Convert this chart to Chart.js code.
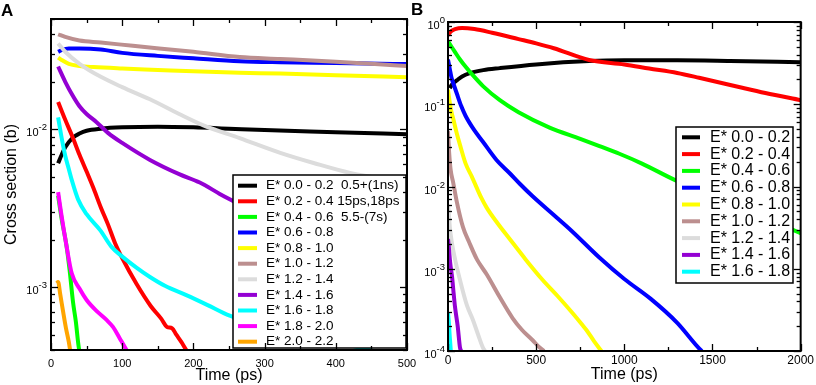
<!DOCTYPE html>
<html><head><meta charset="utf-8">
<script src="https://cdn.jsdelivr.net/npm/chart.js@4.4.0/dist/chart.umd.min.js"></script>
<style>
html,body{margin:0;padding:0;background:#fff;width:816px;height:385px;overflow:hidden;}
canvas{position:absolute;top:0;}
#cA{left:0;} #cB{left:406px;}
.lbl{position:absolute;font:bold 17px "Liberation Sans",Arial,sans-serif;color:#000;}
</style></head><body>
<canvas id="cA" width="430" height="385"></canvas>
<canvas id="cB" width="410" height="385"></canvas>
<div class="lbl" style="left:1px;top:1px">A</div>
<div class="lbl" style="left:411px;top:0px">B</div>
<script>
const FONT = '"Liberation Sans", Arial, Helvetica, sans-serif';

// ---------- Panel A (0-500 ps) ----------
const labelsA = ["E* 0.0 - 0.2  0.5+(1ns)", "E* 0.2 - 0.4 15ps,18ps", "E* 0.4 - 0.6  5.5-(7s)", "E* 0.6 - 0.8", "E* 0.8 - 1.0", "E* 1.0 - 1.2", "E* 1.2 - 1.4", "E* 1.4 - 1.6", "E* 1.6 - 1.8", "E* 1.8 - 2.0", "E* 2.0 - 2.2"];
const tA00 = [10,15,20,30,40,50,70,100,150,200,250,300,400,500];
const vA00 = [0.0061,0.0069,0.0077,0.0088,0.0094,0.0098,0.0101,0.0103,0.0104,0.0103,0.0101,0.0099,0.0096,0.0093];
const tA02 = [10,20,30,40,50,60,70,80,90,100,120,140,155,163,170,176,183,190,197];
const vA02 = [0.0149,0.0115,0.009,0.0069,0.0054,0.0042,0.0032,0.0025,0.0019,0.00153,0.00105,0.00076,0.00063,0.00056,0.00055,0.0005,0.00045,0.0004,0.00036];
const tA04 = [10,15,22,26,31,35,38,41];
const vA04 = [0.0038,0.0027,0.0018,0.0013,0.0008,0.0006,0.00045,0.00036];
const tA06 = [10,15,25,40,70,100,150,200,265,322,400,444,500];
const vA06 = [0.031,0.0318,0.0325,0.0325,0.032,0.0305,0.0292,0.0282,0.027,0.0266,0.0263,0.0261,0.0259];
const tA08 = [10,15,25,40,60,100,150,200,265,322,400,500];
const vA08 = [0.0285,0.0275,0.026,0.0252,0.0248,0.0243,0.0238,0.0233,0.0228,0.0226,0.022,0.0214];
const tA10 = [10,20,40,70,115,200,265,322,400,444,500];
const vA10 = [0.040,0.0385,0.0365,0.0355,0.0338,0.031,0.0287,0.0279,0.0268,0.0261,0.0252];
const tA12 = [10,20,40,70,100,139,180,214,265,322,370,420,500];
const vA12 = [0.035,0.031,0.026,0.0215,0.0185,0.0155,0.0125,0.0106,0.0088,0.0071,0.0061,0.0053,0.0046];
const tA14 = [10,20,30,40,50,64,80,100,139,180,209,237,251,300,400,500];
const vA14 = [0.025,0.02,0.0165,0.014,0.0125,0.0111,0.0095,0.0082,0.0064,0.0052,0.0046,0.0039,0.0036,0.0027,0.0017,0.00114];
const tA16 = [10,15,20,25,29,38,50,69,85,101,120,139,160,190,220,251,300,400,500];
const vA16 = [0.0119,0.0088,0.0068,0.0056,0.0048,0.0036,0.0029,0.0023,0.0018,0.00155,0.00133,0.00116,0.00102,0.00089,0.00077,0.00066,0.00057,0.00045,0.00035];
const tA18 = [10,14,18,22,29,40,50,65,78,87,97,106,110];
const vA18 = [0.004,0.003,0.0023,0.0018,0.00123,0.00098,0.00083,0.0007,0.00062,0.00056,0.00047,0.0004,0.00037];
const tA20 = [8,10,13,17,21,25,28];
const vA20 = [0.00106,0.00108,0.0009,0.0007,0.00055,0.00045,0.00037];

const xTicksA = [0,50,100,150,200,250,300,350,400,450,500];
const xLabelsA = [0,100,200,300,400,500];
const yExpLabelsA = [-3,-2];

// ---------- Panel B (0-2000 ps) ----------
const labelsB = ["E* 0.0 - 0.2", "E* 0.2 - 0.4", "E* 0.4 - 0.6", "E* 0.6 - 0.8", "E* 0.8 - 1.0", "E* 1.0 - 1.2", "E* 1.2 - 1.4", "E* 1.4 - 1.6", "E* 1.6 - 1.8"];
const tB00 = [10,20,30,50,80,124,200,294,500,800,1000,1300,1600,2000];
const vB00 = [0.157,0.17,0.18,0.195,0.218,0.239,0.26,0.275,0.305,0.335,0.342,0.342,0.336,0.325];
const tB02 = [0,10,20,40,80,150,250,400,500,600,800,1000,1141,1300,1424,1650,1800,2000];
const vB02 = [0.69,0.74,0.78,0.82,0.845,0.82,0.74,0.62,0.55,0.48,0.345,0.305,0.272,0.24,0.21,0.162,0.137,0.112];
const tB04 = [0,20,40,68,100,124,200,294,400,576,750,859,972,1100,1294,1500,1750,2000];
const vB04 = [0.58,0.5,0.43,0.35,0.285,0.248,0.165,0.112,0.08,0.052,0.038,0.031,0.025,0.019,0.0118,0.0078,0.0046,0.0027];
const tB06 = [0,10,20,30,50,75,100,150,198,275,350,407,480,600,700,860,1000,1150,1300,1420,1440];
const vB06 = [0.35,0.27,0.21,0.18,0.135,0.095,0.072,0.048,0.035,0.021,0.0145,0.0108,0.0076,0.0045,0.0029,0.00136,0.00075,0.00043,0.00022,0.00011,0.0001];
const tB08 = [0,5,10,20,30,50,70,100,135,190,220,280,350,440,537,620,706,760,785,830,870];
const vB08 = [0.15,0.125,0.105,0.08,0.066,0.044,0.031,0.019,0.0132,0.0072,0.0055,0.0036,0.0023,0.0013,0.00073,0.00047,0.00029,0.00021,0.00018,0.00013,0.0001];
const tB10 = [0,3,7,15,30,50,85,120,164,220,294,367,420,480,520,545];
const vB10 = [0.047,0.035,0.025,0.016,0.011,0.0065,0.0032,0.0021,0.0013,0.00085,0.00045,0.00025,0.00018,0.000135,0.00011,0.0001];
const tB12 = [0,5,10,20,40,68,107,141,170,198,210];
const vB12 = [0.006,0.0045,0.0033,0.0022,0.0013,0.00073,0.00036,0.00024,0.00016,0.00011,0.0001];
const tB14 = [0,5,12,23,32,40,55,68,75];
const vB14 = [0.0023,0.0018,0.0012,0.0008,0.0005,0.00034,0.0002,0.00011,0.0001];
const tB16 = [0,5,10,16];
const vB16 = [0.00029,0.00022,0.00015,0.0001];

const xTicksB = [0,250,500,750,1000,1250,1500,1750,2000];
const xLabelsB = [0,500,1000,1500,2000];
const yExpLabelsB = [-4,-3,-2,-1,0];

// ---------- styles ----------
const seriesColors = ['#000000','#ff0000','#00ff00','#0000ff','#ffff00','#bc8f8f','#dcdcdc','#9400d3','#00ffff','#ff00ff','#ffa500'];

const seriesA = [[tA00,vA00],[tA02,vA02],[tA04,vA04],[tA06,vA06],[tA08,vA08],[tA10,vA10],[tA12,vA12],[tA14,vA14],[tA16,vA16],[tA18,vA18],[tA20,vA20]];
const seriesB = [[tB00,vB00],[tB02,vB02],[tB04,vB04],[tB06,vB06],[tB08,vB08],[tB10,vB10],[tB12,vB12],[tB14,vB14],[tB16,vB16]];

function makeDatasets(series, labels) {
  return series.map((s, i) => ({
    label: labels[i],
    data: s[0].map((t, k) => ({x: t, y: s[1][k]})),
    borderColor: seriesColors[i],
    backgroundColor: seriesColors[i],
    borderWidth: 4,
    pointRadius: 0,
    fill: false,
    cubicInterpolationMode: 'monotone',
    clip: 0,
    order: -i
  }));
}

function logTicks(min, max) {
  const out = [];
  for (let e = Math.floor(Math.log10(min)); e <= Math.ceil(Math.log10(max)); e++) {
    for (let k = 1; k <= 9; k++) {
      const v = k * Math.pow(10, e);
      if (v >= min * 0.999 && v <= max * 1.001) out.push({value: v, major: k === 1});
    }
  }
  return out;
}

const panelPlugin = {
  id: 'panel',
  afterDraw(chart) {
    const o = chart.options.plugins.panel;
    const ctx = chart.ctx, a = chart.chartArea;
    const xs = chart.scales.x, ys = chart.scales.y;
    ctx.save();
    // legend
    const L = o.legend;
    ctx.fillStyle = '#fff';
    ctx.fillRect(L.x, L.y, L.w, L.h);
    ctx.lineWidth = 1.5; ctx.strokeStyle = '#000';
    ctx.strokeRect(L.x, L.y, L.w, L.h);
    ctx.font = L.font + 'px ' + FONT;
    ctx.textBaseline = 'middle'; ctx.textAlign = 'left';
    chart.data.datasets.forEach((ds, i) => {
      const cy = L.y0 + i * L.dy;
      ctx.strokeStyle = ds.borderColor; ctx.lineWidth = 4; ctx.lineCap = 'butt';
      ctx.beginPath(); ctx.moveTo(L.sx0, cy); ctx.lineTo(L.sx1, cy); ctx.stroke();
      ctx.fillStyle = '#000';
      ctx.fillText(ds.label, L.tx, cy);
    });
    // inward ticks
    ctx.strokeStyle = '#000'; ctx.lineWidth = 1.3;
    const seg = (x1, y1, x2, y2) => { ctx.beginPath(); ctx.moveTo(x1, y1); ctx.lineTo(x2, y2); ctx.stroke(); };
    xs.ticks.forEach(t => {
      const px = Math.round(xs.getPixelForValue(t.value)) + 0.5;
      const len = o.xMajor.includes(t.value) ? o.majorLen : o.minorLen;
      seg(px, a.bottom, px, a.bottom - len);
      seg(px, a.top, px, a.top + len);
    });
    ys.ticks.forEach(t => {
      const py = Math.round(ys.getPixelForValue(t.value)) + 0.5;
      const len = t.major ? o.majorLen : o.minorLen;
      seg(a.left, py, a.left + len, py);
      seg(a.right, py, a.right - len, py);
    });
    // frame
    ctx.lineWidth = 2;
    ctx.strokeRect(a.left, a.top, a.right - a.left, a.bottom - a.top);
    // y labels 10^n
    ctx.fillStyle = '#000'; ctx.textBaseline = 'alphabetic'; ctx.textAlign = 'left';
    o.yExps.forEach(e => {
      const py = ys.getPixelForValue(Math.pow(10, e));
      ctx.font = o.baseFont + 'px ' + FONT;
      const wb = ctx.measureText('10').width;
      ctx.font = o.expFont + 'px ' + FONT;
      const es = String(e);
      const we = ctx.measureText(es).width;
      const x0 = a.left - o.yGap - wb - we;
      ctx.font = o.baseFont + 'px ' + FONT;
      ctx.fillText('10', x0, py + 7);
      ctx.font = o.expFont + 'px ' + FONT;
      ctx.fillText(es, x0 + wb, py + 1);
    });
    ctx.restore();
  }
};

function makeChart(id, cfg) {
  return new Chart(document.getElementById(id), {
    type: 'line',
    data: {datasets: makeDatasets(cfg.series, cfg.labels)},
    plugins: [panelPlugin],
    options: {
      responsive: false, animation: false, devicePixelRatio: 1,
      layout: {autoPadding: false, padding: cfg.padding},
      plugins: {
        legend: {display: false}, tooltip: {enabled: false},
        panel: cfg.panel
      },
      scales: {
        x: {
          type: 'linear', min: cfg.xMin, max: cfg.xMax,
          afterBuildTicks: s => { s.ticks = cfg.xTicks.map(v => ({value: v})); },
          afterFit: s => { s.height = cfg.xAxisH; },
          ticks: {autoSkip: false, maxRotation: 0, minRotation: 0, padding: cfg.xTickPad, color: '#000',
                  font: {family: FONT, size: cfg.xTickFont},
                  callback: v => cfg.xLabels.includes(v) ? String(v) : ''},
          grid: {display: false, drawTicks: false},
          border: {display: false},
          title: {display: true, text: 'Time (ps)', color: '#000', font: {family: FONT, size: 16},
                  padding: {top: 0, bottom: cfg.xTitlePad}}
        },
        y: {
          type: 'logarithmic', min: cfg.yMin, max: cfg.yMax,
          afterBuildTicks: s => { s.ticks = logTicks(cfg.yMin, cfg.yMax); },
          afterFit: s => { s.width = cfg.yAxisW; },
          ticks: {display: false},
          grid: {display: false, drawTicks: false},
          border: {display: false},
          title: {display: cfg.yTitle !== '', text: cfg.yTitle, color: '#000', font: {family: FONT, size: 16},
                  padding: {top: 2, bottom: 0}}
        }
      }
    }
  });
}

makeChart('cA', {
  series: seriesA, labels: labelsA,
  xMin: 0, xMax: 500, yMin: 4e-4, yMax: 5e-2,
  xTicks: xTicksA, xLabels: xLabelsA,
  padding: {left: 0, top: 19, right: 23, bottom: 0},
  xAxisH: 35, yAxisW: 51, xTickPad: 7.5, xTickFont: 11, xTitlePad: 0,
  yTitle: 'Cross section (b)',
  panel: {
    xMajor: xLabelsA, majorLen: 7, minorLen: 4, yExps: yExpLabelsA, baseFont: 11, expFont: 9.5, yGap: 4,
    legend: {x: 233, y: 175, w: 173, h: 173, y0: 185.7, dy: 15.6, sx0: 238, sx1: 257, tx: 266, font: 13.5}
  }
});

makeChart('cB', {
  series: seriesB, labels: labelsB,
  xMin: 0, xMax: 2000, yMin: 1e-4, yMax: 1,
  xTicks: xTicksB, xLabels: xLabelsB,
  padding: {left: 0, top: 22, right: 14, bottom: 0},
  xAxisH: 34, yAxisW: 42, xTickPad: 2, xTickFont: 12, xTitlePad: 1,
  yTitle: '',
  panel: {
    xMajor: xLabelsB, majorLen: 7, minorLen: 4, yExps: yExpLabelsB, baseFont: 11, expFont: 9.5, yGap: 3,
    legend: {x: 270, y: 127, w: 117, h: 156, y0: 137.3, dy: 16.8, sx0: 276, sx1: 294, tx: 304, font: 16}
  }
});
</script>
</body></html>
